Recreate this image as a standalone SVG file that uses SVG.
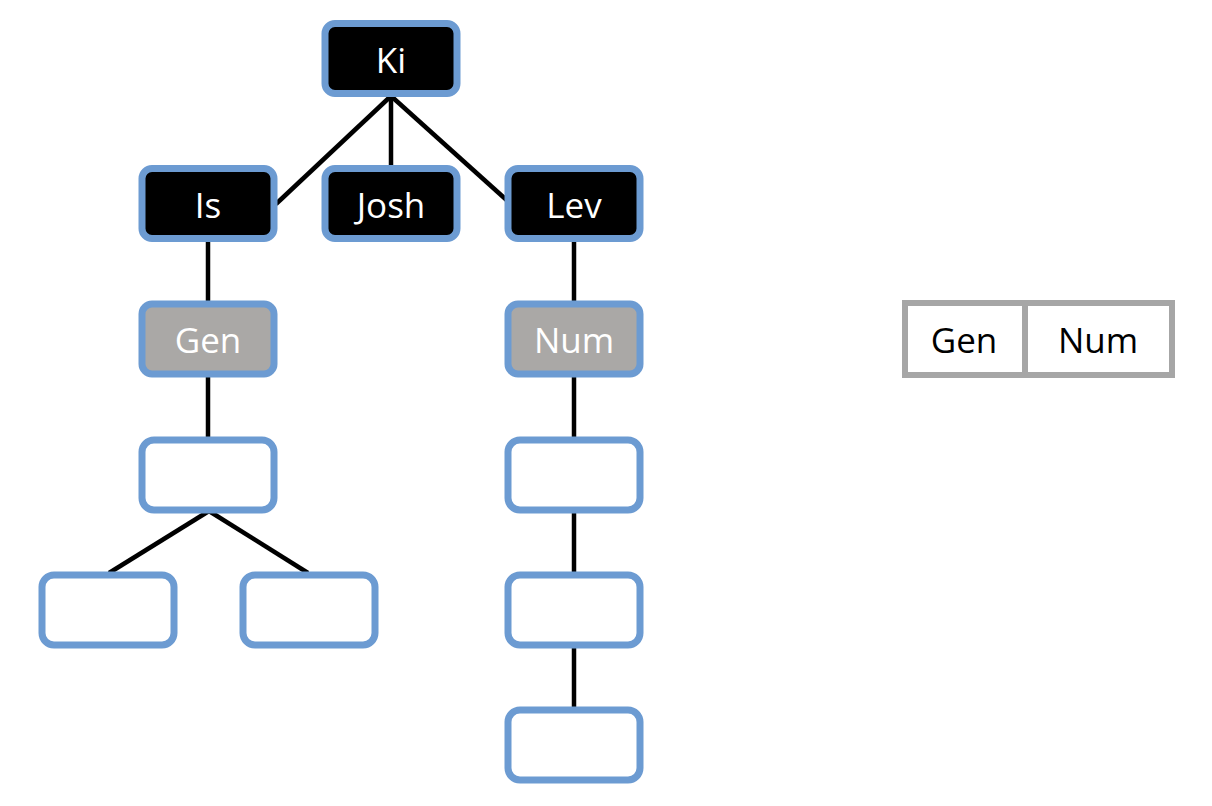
<svg xmlns="http://www.w3.org/2000/svg" width="1212" height="806" viewBox="0 0 1212 806">
<style>
.box rect{stroke:#6c9bd2;stroke-width:7}
.dark rect{fill:#000}
.gray rect{fill:#aaa8a6}
.empty rect{fill:#fff}
text{font-family:"Open Sans","Noto Sans","DejaVu Sans",sans-serif;font-size:35px;text-anchor:middle;dominant-baseline:central}
.dark text,.gray text{fill:#fff}
.conn line{stroke:#000;stroke-width:4.5}
.legend rect{fill:#fff;stroke:#a6a6a6;stroke-width:6}
.legend text{fill:#000}
</style>
<rect width="1212" height="806" fill="#fff"/>
<g class="conn" id="connectors">
<line x1="391" y1="96" x2="276" y2="204"/>
<line x1="391" y1="96" x2="391" y2="166"/>
<line x1="391" y1="96" x2="511" y2="204"/>
<line x1="208" y1="240" x2="208" y2="302"/>
<line x1="208" y1="376" x2="208" y2="438"/>
<line x1="209" y1="511" x2="109" y2="573"/>
<line x1="209" y1="511" x2="308" y2="573"/>
<line x1="574" y1="240" x2="574" y2="302"/>
<line x1="574" y1="376" x2="574" y2="438"/>
<line x1="574" y1="511" x2="574" y2="573"/>
<line x1="574" y1="646" x2="574" y2="708"/>
</g>
<g id="ki" class="box dark"><rect x="325" y="23.5" width="132" height="70" rx="10"/><text x="391" y="59">Ki</text></g>
<g id="is" class="box dark"><rect x="142" y="168.5" width="132" height="70" rx="10"/><text x="208" y="204">Is</text></g>
<g id="josh" class="box dark"><rect x="325" y="168.5" width="132" height="70" rx="10"/><text x="391" y="204">Josh</text></g>
<g id="lev" class="box dark"><rect x="508" y="168.5" width="132" height="70" rx="10"/><text x="574" y="204">Lev</text></g>
<g id="gen" class="box gray"><rect x="142" y="304" width="132" height="70" rx="10"/><text x="208" y="339">Gen</text></g>
<g id="num" class="box gray"><rect x="508" y="304" width="132" height="70" rx="10"/><text x="574" y="339">Num</text></g>
<g id="empty1" class="box empty"><rect x="142" y="440" width="132" height="70" rx="12"/></g>
<g id="empty2" class="box empty"><rect x="42" y="575" width="132" height="70" rx="12"/></g>
<g id="empty3" class="box empty"><rect x="243" y="575" width="132" height="70" rx="12"/></g>
<g id="empty4" class="box empty"><rect x="508" y="440" width="132" height="70" rx="12"/></g>
<g id="empty5" class="box empty"><rect x="508" y="575" width="132" height="70" rx="12"/></g>
<g id="empty6" class="box empty"><rect x="508" y="710" width="132" height="70" rx="12"/></g>
<g id="legend" class="legend">
<rect x="905" y="303" width="120" height="72"/>
<rect x="1025" y="303" width="147" height="72"/>
<text x="964" y="339">Gen</text>
<text x="1098" y="339">Num</text>
</g>
</svg>
